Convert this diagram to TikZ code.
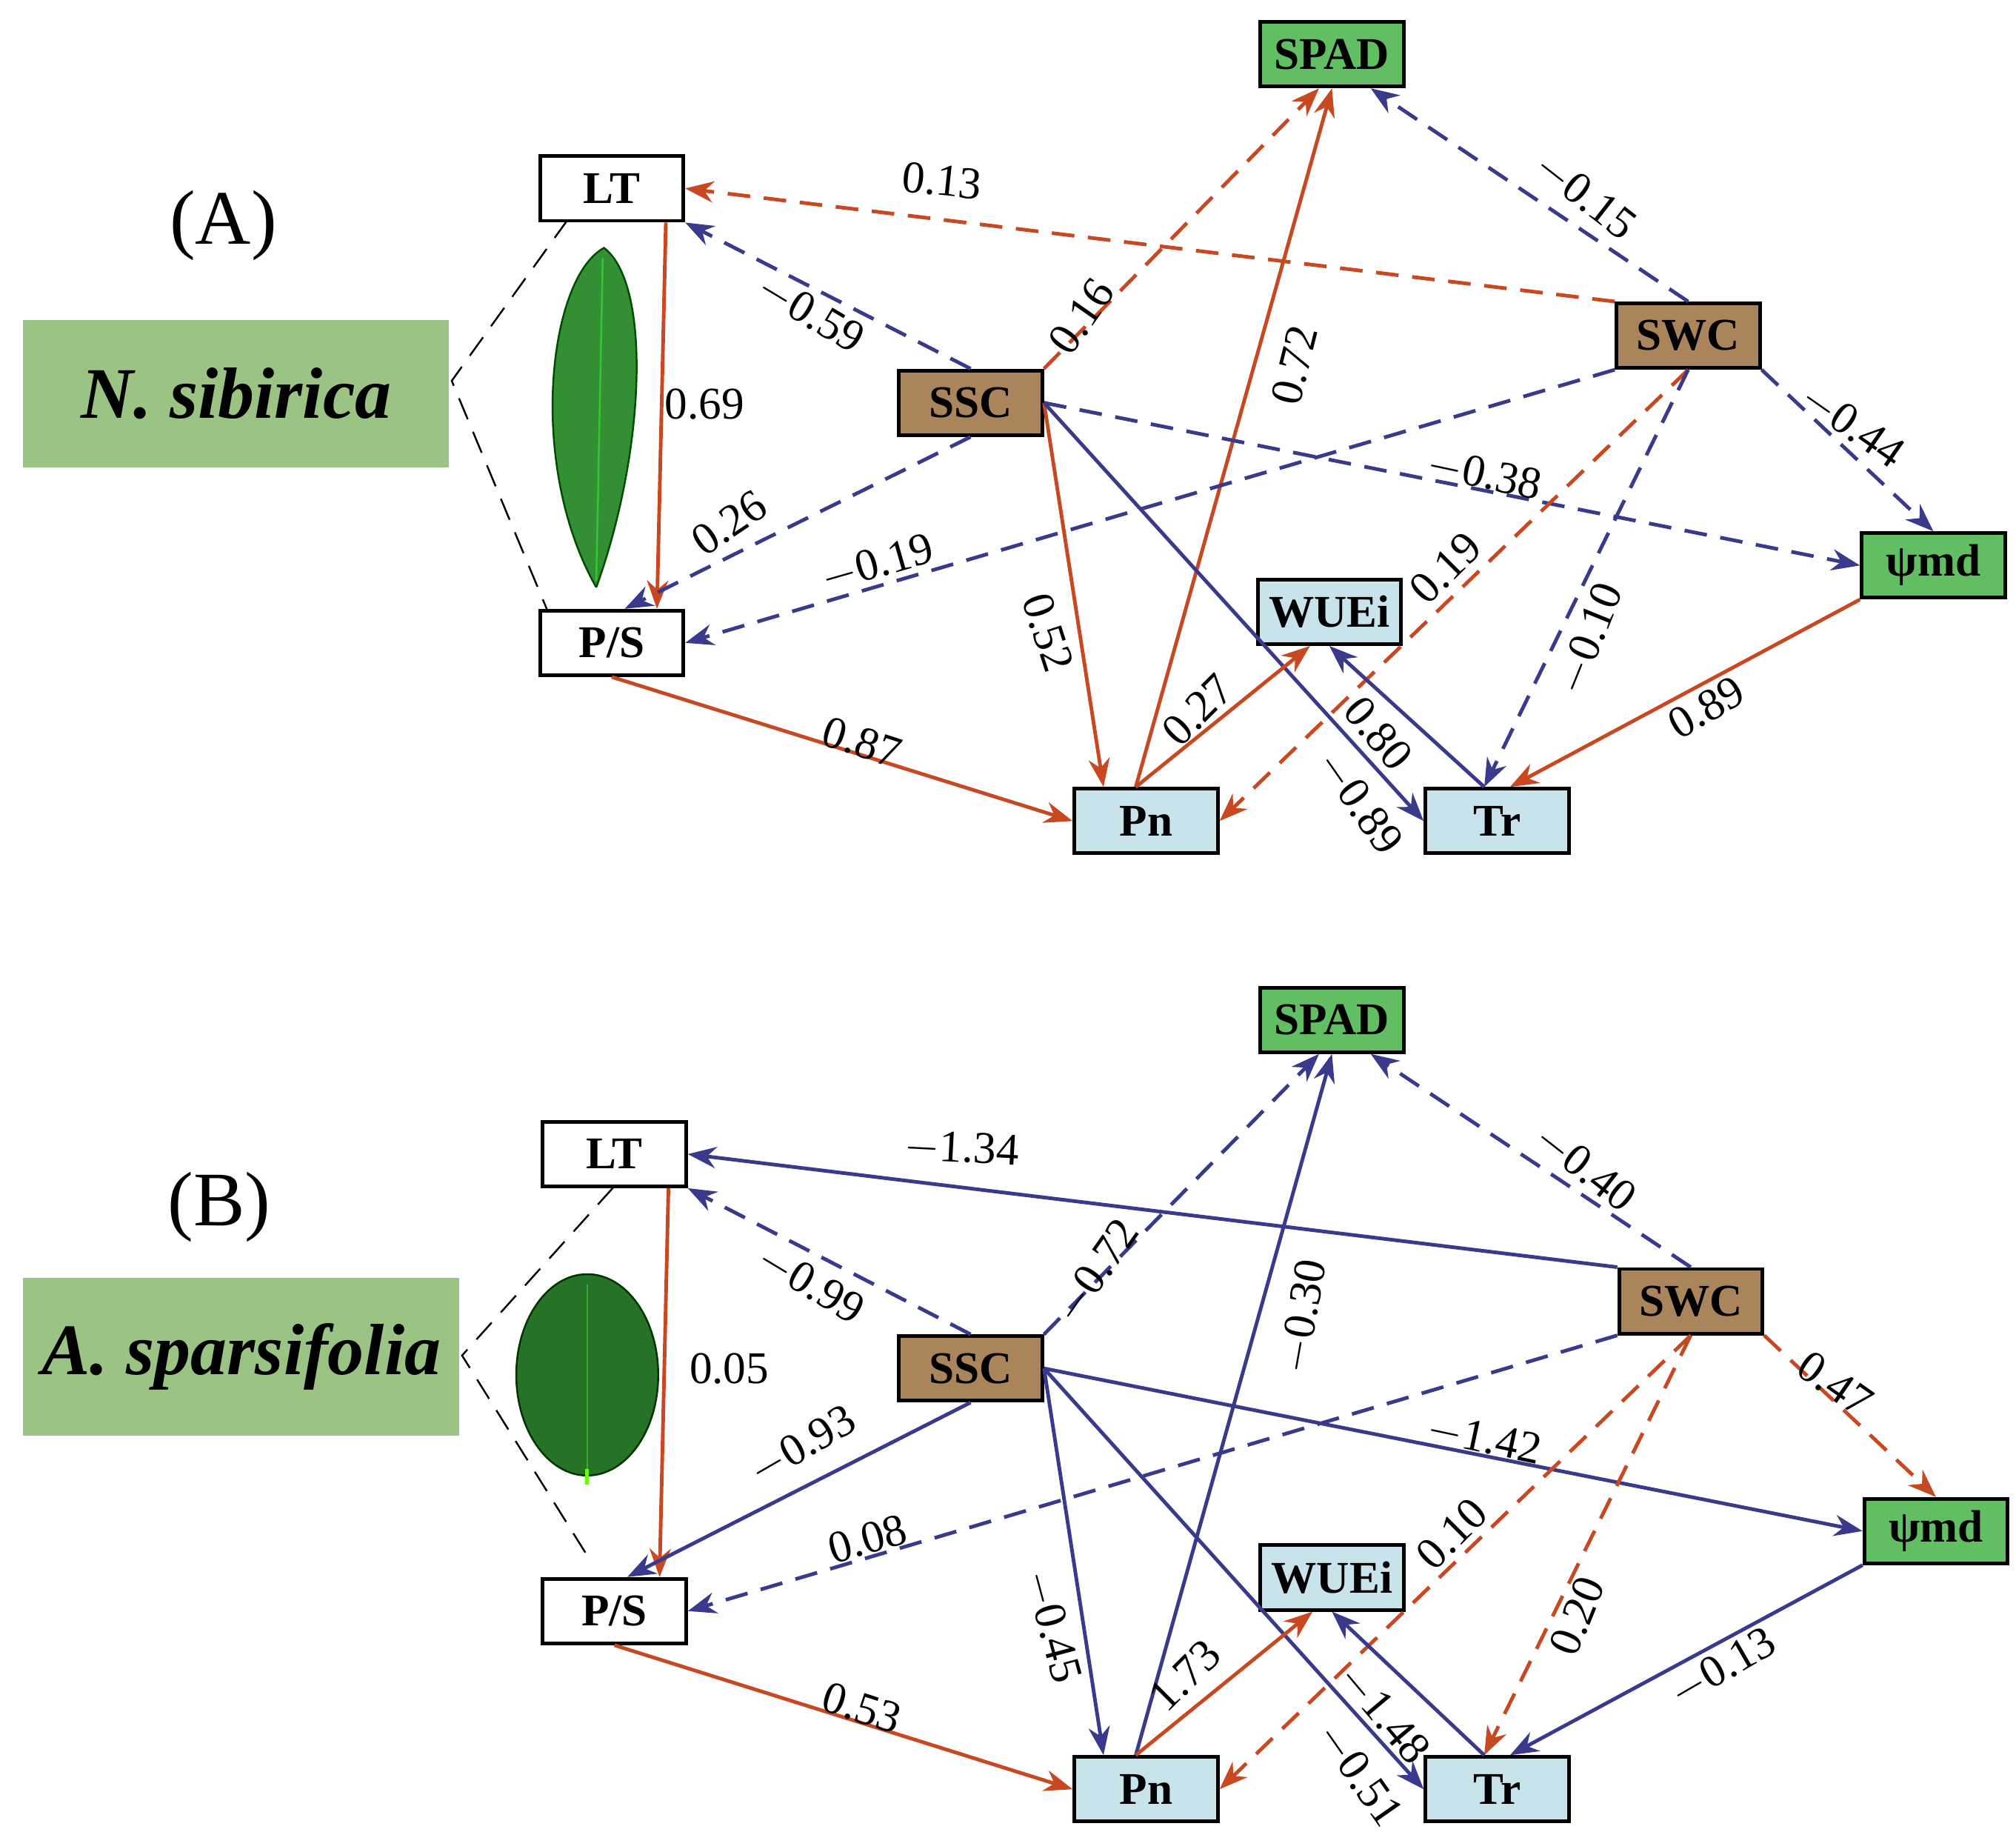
\documentclass[tikz,border=0pt]{standalone}
\usepackage{fontspec}
\setmainfont{Liberation Serif}
\usetikzlibrary{positioning}
\usetikzlibrary{arrows.meta}
\definecolor{rusty}{RGB}{200,72,34}
\definecolor{navy2}{RGB}{58,58,140}
\definecolor{leafgreen}{RGB}{98,190,98}
\definecolor{soilbrown}{RGB}{170,132,90}
\definecolor{paleblue}{RGB}{200,228,234}
\definecolor{spgreen}{RGB}{155,196,132}

\tikzset{
  box/.style={draw, thick, minimum width=3mm*3.7, minimum height=5mm, inner sep=0pt, font=\fontsize{10}{10}\selectfont\bfseries},
  lab/.style={font=\fontsize{10}{10}\selectfont},
  rs/.style={draw=rusty, thick, -{Stealth[length=2.2mm]}},
  rd/.style={rs, dash pattern=on 5pt off 3pt},
  bs/.style={draw=navy2, thick, -{Stealth[length=2.2mm]}},
  bd/.style={bs, dash pattern=on 5pt off 3pt},
}

\begin{document}
\begin{tikzpicture}[x=0.1mm, y=-0.1mm]
\useasboundingbox (0,0) rectangle (1562,1419);

% panel (A)
\node [font=\fontsize{17}{17}\selectfont] (tA) at (173,175) {(A)};
\node [fill=spgreen, minimum width=33mm, minimum height=11.4mm, font=\fontsize{16}{16}\selectfont\bfseries\itshape] (spA) at (183,305) {N. sibirica};
\draw [dash pattern=on 5pt off 3pt] (440,170) -- (350,295) -- (425,475);
\fill [green!45!black!80, draw=green!30!black] (462,455) .. controls (500,350) and (505,220) .. (468,192)
  .. controls (425,215) and (408,360) .. (462,455);
\draw [green!80!white, opacity=0.5] (467,200) -- (462,450);

\node [box, fill=white] (aLT) at (474,146) {LT};
\node [box, fill=white] (aPS) at (474,498) {P/S};
\node [box, fill=leafgreen] (aSPAD) at (1032,42) {SPAD};
\node [box, fill=soilbrown] (aSWC) at (1308,260) {SWC};
\node [box, fill=soilbrown] (aSSC) at (752,312) {SSC};
\node [box, fill=leafgreen] (aPSI) at (1498,438) {ψmd};
\node [box, fill=paleblue] (aWUE) at (1030,474) {WUEi};
\node [box, fill=paleblue] (aPn) at (888,636) {Pn};
\node [box, fill=paleblue] (aTr) at (1160,636) {Tr};

\path [rd] (aSWC.north west) -- (aLT.east);
\path [bd] (aSWC.north) -- ([xshift=3mm]aSPAD.south);
\path [bd] (aSSC.north) -- (aLT.south east);
\path [rd] (aSSC.north east) -- ([xshift=-1mm]aSPAD.south);
\path [rs] ([xshift=-0.8mm]aPn.north) -- (aSPAD.south);
\path [rs] ([xshift=-1.5mm]aLT.south east) -- ([xshift=3.5mm]aPS.north);
\path [bd] (aSSC.south) -- ([xshift=1mm]aPS.north);
\path [bd] (aSWC.south west) -- (aPS.east);
\path [bd] (aSSC.east) -- (aPSI.west);
\path [bd] (aSWC.south east) -- (aPSI.north);
\path [rs] (aSSC.east) -- ([xshift=-3.3mm]aPn.north);
\path [bs] (aSSC.east) -- (aTr.west);
\path [rs] ([xshift=-0.8mm]aPn.north) -- ([xshift=-1.5mm]aWUE.south);
\path [rd] (aSWC.south) -- (aPn.east);
\path [bd] (aSWC.south) -- ([xshift=-1mm]aTr.north);
\path [bs] ([xshift=-1mm]aTr.north) -- (aWUE.south);
\path [rs] (aPSI.south west) -- ([xshift=1mm]aTr.north);
\path [rs] (aPS.south) -- (aPn.west);

\node [lab, rotate=-6] (l1) at (730,140) {0.13};
\node [lab, rotate=-38] (l2) at (1228,152) {$-$0.15};
\node [lab, rotate=-31] (l3) at (628,243) {$-$0.59};
\node [lab, rotate=55] (l4) at (838,245) {0.16};
\node [lab, rotate=76] (l5) at (1003,283) {0.72};
\node [lab] (l6) at (546,313) {0.69};
\node [lab, rotate=34] (l7) at (565,405) {0.26};
\node [lab, rotate=16] (l8) at (680,437) {$-$0.19};
\node [lab, rotate=-12] (l9) at (1150,368) {$-$0.38};
\node [lab, rotate=-35] (l10) at (1435,330) {$-$0.44};
\node [lab, rotate=-72] (l11) at (812,490) {0.52};
\node [lab, rotate=-55] (l12) at (1053,622) {$-$0.89};
\node [lab, rotate=45] (l13) at (928,550) {0.27};
\node [lab, rotate=45] (l14) at (1120,440) {0.19};
\node [lab, rotate=68] (l15) at (1232,495) {$-$0.10};
\node [lab, rotate=-50] (l16) at (1068,568) {0.80};
\node [lab, rotate=30] (l17) at (1322,548) {0.89};
\node [lab, rotate=-18] (l18) at (668,575) {0.87};

% panel (B)
\node [font=\fontsize{17}{17}\selectfont] (tB) at (170,935) {(B)};
\node [fill=spgreen, minimum width=33.8mm, minimum height=12.2mm, font=\fontsize{16}{16}\selectfont\bfseries\itshape] (spB) at (187,1051) {A. sparsifolia};
\draw [dash pattern=on 5pt off 3pt] (475,920) -- (358,1050) -- (455,1205);
\fill [green!35!black!85, draw=green!20!black] (455,1065) ellipse [x radius=55, y radius=78];
\draw [green!60!yellow, thick] (455,1138) -- (455,1150);
\draw [green!70!white, opacity=0.4] (455,995) -- (455,1140);

\node [box, fill=white] (bLT) at (476,894) {LT};
\node [box, fill=white] (bPS) at (476,1248) {P/S};
\node [box, fill=leafgreen] (bSPAD) at (1032,790) {SPAD};
\node [box, fill=soilbrown] (bSWC) at (1310,1008) {SWC};
\node [box, fill=soilbrown] (bSSC) at (752,1060) {SSC};
\node [box, fill=leafgreen] (bPSI) at (1500,1186) {ψmd};
\node [box, fill=paleblue] (bWUE) at (1032,1222) {WUEi};
\node [box, fill=paleblue] (bPn) at (888,1386) {Pn};
\node [box, fill=paleblue] (bTr) at (1160,1386) {Tr};

\path [bs] (bSWC.north west) -- (bLT.east);
\path [bd] (bSWC.north) -- ([xshift=3mm]bSPAD.south);
\path [bd] (bSSC.north) -- (bLT.south east);
\path [bd] (bSSC.north east) -- ([xshift=-1mm]bSPAD.south);
\path [bs] ([xshift=-0.8mm]bPn.north) -- (bSPAD.south);
\path [rs] ([xshift=-1.5mm]bLT.south east) -- ([xshift=3.5mm]bPS.north);
\path [bs] (bSSC.south) -- ([xshift=1mm]bPS.north);
\path [bd] (bSWC.south west) -- (bPS.east);
\path [bs] (bSSC.east) -- (bPSI.west);
\path [rd] (bSWC.south east) -- (bPSI.north);
\path [bs] (bSSC.east) -- ([xshift=-3.3mm]bPn.north);
\path [bs] (bSSC.east) -- (bTr.west);
\path [rs] ([xshift=-0.8mm]bPn.north) -- ([xshift=-1.5mm]bWUE.south);
\path [rd] (bSWC.south) -- (bPn.east);
\path [rd] (bSWC.south) -- ([xshift=-1mm]bTr.north);
\path [bs] ([xshift=-1mm]bTr.north) -- (bWUE.south);
\path [bs] (bPSI.south west) -- ([xshift=1mm]bTr.north);
\path [rs] (bPS.south) -- (bPn.west);

\node [lab, rotate=-3] (m1) at (745,890) {$-$1.34};
\node [lab, rotate=-38] (m2) at (1228,905) {$-$0.40};
\node [lab, rotate=-31] (m3) at (628,995) {$-$0.99};
\node [lab, rotate=55] (m4) at (850,985) {$-$0.72};
\node [lab, rotate=80] (m5) at (1010,1020) {$-$0.30};
\node [lab] (m6) at (565,1060) {0.05};
\node [lab, rotate=30] (m7) at (622,1120) {$-$0.93};
\node [lab, rotate=16] (m8) at (672,1192) {0.08};
\node [lab, rotate=-12] (m9) at (1150,1115) {$-$1.42};
\node [lab, rotate=-35] (m10) at (1422,1072) {0.47};
\node [lab, rotate=-75] (m11) at (815,1260) {$-$0.45};
\node [lab, rotate=-55] (m12) at (1053,1375) {$-$0.51};
\node [lab, rotate=45] (m13) at (918,1298) {1.73};
\node [lab, rotate=45] (m14) at (1125,1188) {0.10};
\node [lab, rotate=68] (m15) at (1222,1252) {0.20};
\node [lab, rotate=-50] (m16) at (1072,1328) {$-$1.48};
\node [lab, rotate=30] (m17) at (1335,1292) {$-$0.13};
\node [lab, rotate=-18] (m18) at (668,1323) {0.53};
\end{tikzpicture}
\end{document}
